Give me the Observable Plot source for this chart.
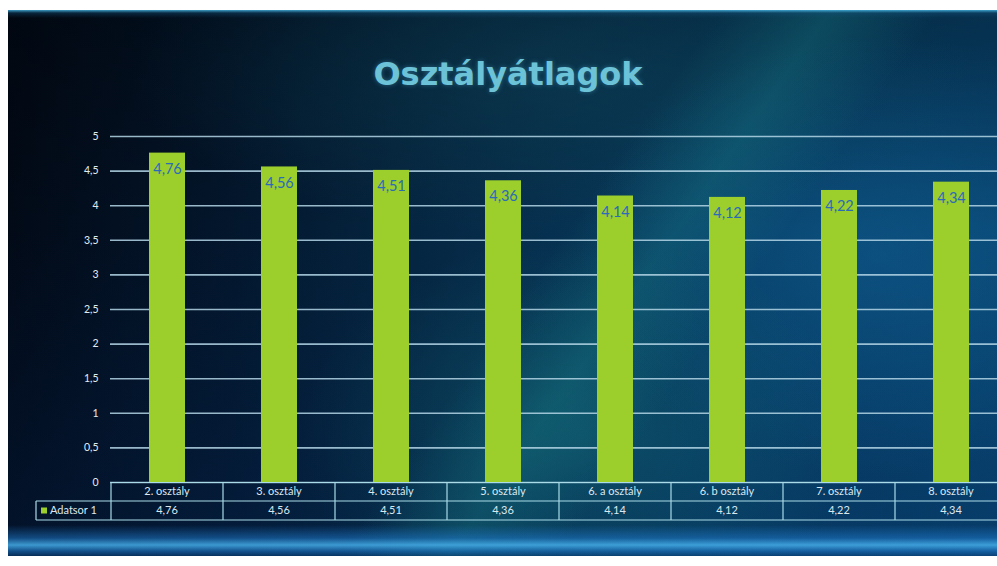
<!DOCTYPE html>
<html>
<head>
<meta charset="utf-8">
<script src="https://cdn.jsdelivr.net/npm/d3@7"></script>
<script src="https://cdn.jsdelivr.net/npm/@observablehq/plot@0.6"></script>
<style>
  html, body { margin: 0; padding: 0; background: #ffffff; }
  #stage { position: relative; width: 997px; height: 566px; overflow: hidden; background: #ffffff; }
  #bg {
    position: absolute; left: 8px; top: 10px; width: 989px; height: 546px;
    background:
      linear-gradient(180deg, rgba(70,180,225,0.85) 0px, rgba(20,80,120,0.4) 3px, rgba(0,0,0,0) 8px),
      linear-gradient(180deg, rgba(0,0,0,0) 515px, rgba(30,120,200,0.55) 528px, rgba(70,175,235,0.85) 535px, rgba(30,120,200,0.6) 541px, rgba(10,70,130,0.5) 546px),
      linear-gradient(125deg, rgba(0,0,0,0) 52%, rgba(30,150,150,0.25) 60%, rgba(0,0,0,0) 68%),
      radial-gradient(ellipse 280px 200px at 58% 78%, rgba(25,140,140,0.3), rgba(0,0,0,0)),
      radial-gradient(ellipse 300px 220px at 88% 45%, rgba(20,110,170,0.35), rgba(0,0,0,0)),
      radial-gradient(ellipse 420px 160px at 55% 12%, rgba(15,70,90,0.45), rgba(0,0,0,0)),
      linear-gradient(180deg, rgba(0,0,0,0.3) 0%, rgba(0,0,0,0) 40%, rgba(5,40,90,0.3) 100%),
      linear-gradient(90deg, #020a17 0%, #03162c 22%, #062d4b 50%, #073d63 75%, #08446f 100%);
  }
  #title {
    position: absolute; left: 0; width: 1016px; top: 55px; text-align: center;
    font-family: "DejaVu Sans", sans-serif; font-weight: 700; font-size: 32px;
    color: #6cc3d8; letter-spacing: 0px;
    text-shadow: 0 0 5px rgba(90,190,230,0.4);
  }
  #chart { position: absolute; left: 0; top: 0; width: 1008px; height: 566px; }
  #chart svg { max-width: none !important; }
</style>
</head>
<body>
<div id="stage">
  <div id="bg"></div>
  <div id="title">Osztályátlagok</div>
  <div id="chart"></div>
</div>
<script>
const categories = ["2. osztály", "3. osztály", "4. osztály", "5. osztály", "6. a osztály", "6. b osztály", "7. osztály", "8. osztály"];
const values = [4.76, 4.56, 4.51, 4.36, 4.14, 4.12, 4.22, 4.34];
const yTicks = [0, 0.5, 1, 1.5, 2, 2.5, 3, 3.5, 4, 4.5, 5];
const seriesName = "Adatsor 1";

const fmt = d => String(d).replace(".", ",");
const data = categories.map((c, i) => ({category: c, value: values[i]}));

const plot = Plot.plot({
  width: 1008,
  height: 566,
  marginLeft: 110,
  marginRight: 0,
  marginTop: 136,
  marginBottom: 84,
  style: {background: "transparent", fontFamily: "Lato, 'DejaVu Sans', sans-serif", overflow: "visible", maxWidth: "none"},
  x: {domain: categories, paddingInner: 0.68, paddingOuter: 0.34, axis: null},
  y: {domain: [0, 5], axis: null},
  marks: [
    Plot.gridY(yTicks, {stroke: "#b4d6e6", strokeOpacity: 0.85, strokeWidth: 1.6}),
    Plot.axisY(yTicks, {tickSize: 0, tickPadding: 12, tickFormat: fmt, fill: "#e2ecf2", fontSize: 10.5, stroke: null, label: null}),
    Plot.barY(data, {x: "category", y: "value", fill: "#9ccf2c"}),
    Plot.text(data, {x: "category", y: "value", text: d => fmt(d.value), dy: 16, fill: "#2a6ab8", fontSize: 14.5})
  ]
});
document.getElementById("chart").appendChild(plot);

// data table drawn from the plot's own scales
const xs = plot.scale("x");
const ys = plot.scale("y");
const step = xs.step;
const bw = xs.bandwidth;
const y0 = ys.apply(0);
const rowH = 19;
const svg = d3.select(plot);
const g = svg.append("g");
const lineColor = "#a9dbe8";
const font = "Lato, 'DejaVu Sans', sans-serif";
const colStart = c => xs.apply(c) - (step - bw) / 2;
const firstX = colStart(categories[0]);
const lastX = colStart(categories[categories.length - 1]) + step;
const legendX = 36;

function hline(x1, x2, y) {
  g.append("line").attr("x1", x1).attr("x2", x2).attr("y1", y).attr("y2", y).attr("stroke", lineColor).attr("stroke-width", 1.2);
}
function vline(x, y1, y2) {
  g.append("line").attr("x1", x).attr("x2", x).attr("y1", y1).attr("y2", y2).attr("stroke", lineColor).attr("stroke-width", 1.2);
}
hline(firstX, lastX, y0 + 0.5);
hline(legendX, lastX, y0 + rowH);
hline(legendX, lastX, y0 + 2 * rowH);
vline(legendX, y0 + rowH, y0 + 2 * rowH);
categories.forEach(c => vline(colStart(c), y0, y0 + 2 * rowH));
vline(lastX, y0, y0 + 2 * rowH);

categories.forEach((c, i) => {
  const cx = xs.apply(c) + bw / 2;
  g.append("text").attr("x", cx).attr("y", y0 + rowH / 2 + 1).attr("text-anchor", "middle").attr("dominant-baseline", "middle")
    .attr("fill", "#dbe8f0").attr("font-size", 11).attr("font-family", font).text(c);
  g.append("text").attr("x", cx).attr("y", y0 + rowH * 1.5 + 1).attr("text-anchor", "middle").attr("dominant-baseline", "middle")
    .attr("fill", "#dbe8f0").attr("font-size", 11).attr("font-family", font).text(fmt(values[i]));
});
g.append("rect").attr("x", legendX + 5).attr("y", y0 + rowH * 1.5 - 3).attr("width", 6).attr("height", 6).attr("fill", "#9ccf2c");
g.append("text").attr("x", legendX + 14).attr("y", y0 + rowH * 1.5 + 1).attr("text-anchor", "start").attr("dominant-baseline", "middle")
  .attr("fill", "#dbe8f0").attr("font-size", 11).attr("font-family", font).text(seriesName);
</script>
</body>
</html>
